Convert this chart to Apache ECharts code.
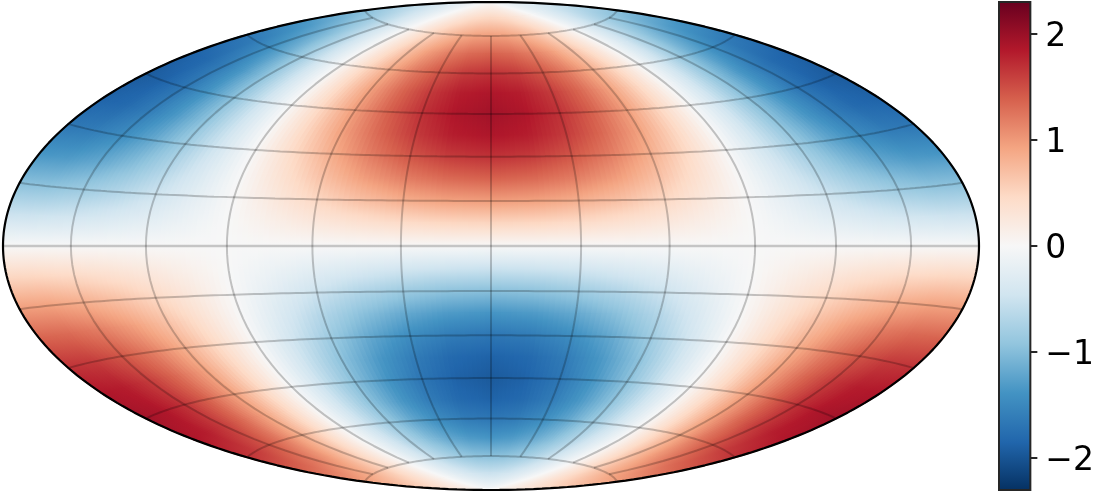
<!DOCTYPE html>
<html>
<head>
<meta charset="utf-8">
<title>Hammer map</title>
<script src="https://cdn.jsdelivr.net/npm/echarts@6/dist/echarts.min.js"></script>
<style>
  html, body { margin: 0; padding: 0; background: #fff; }
  #chart { width: 1097px; height: 493px; }
</style>
</head>
<body>
<div id="chart"></div>
<script>
var lonValues = [-180,-165,-150,-135,-120,-105,-90,-75,-60,-45,-30,-15,0,15,30,45,60,75,90,105,120,135,150,165,180];
var latValues = [90,82.5,75,67.5,60,52.5,45,37.5,30,22.5,15,7.5,0,-7.5,-15,-22.5,-30,-37.5,-45,-52.5,-60,-67.5,-75,-82.5,-90];

// values, one row per latitude, one column per longitude
var fieldRows = [
  [0,0,0,0,0,0,0,0,0,0,0,0,0,0,0,0,0,0,0,0,0,0,0,0,0],
  [-.50,-.48,-.43,-.35,-.25,-.13,0,.13,.25,.35,.43,.48,.50,.48,.43,.35,.25,.13,0,-.13,-.25,-.35,-.43,-.48,-.50],
  [-.97,-.94,-.84,-.69,-.49,-.25,0,.25,.49,.69,.84,.94,.97,.94,.84,.69,.49,.25,0,-.25,-.49,-.69,-.84,-.94,-.97],
  [-1.37,-1.32,-1.19,-.97,-.69,-.35,0,.35,.69,.97,1.19,1.32,1.37,1.32,1.19,.97,.69,.35,0,-.35,-.69,-.97,-1.19,-1.32,-1.37],
  [-1.68,-1.62,-1.45,-1.19,-.84,-.44,0,.44,.84,1.19,1.45,1.62,1.68,1.62,1.45,1.19,.84,.44,0,-.44,-.84,-1.19,-1.45,-1.62,-1.68],
  [-1.87,-1.81,-1.62,-1.32,-.94,-.48,0,.48,.94,1.32,1.62,1.81,1.87,1.81,1.62,1.32,.94,.48,0,-.48,-.94,-1.32,-1.62,-1.81,-1.87],
  [-1.94,-1.87,-1.68,-1.37,-.97,-.50,0,.50,.97,1.37,1.68,1.87,1.94,1.87,1.68,1.37,.97,.50,0,-.50,-.97,-1.37,-1.68,-1.87,-1.94],
  [-1.87,-1.81,-1.62,-1.32,-.94,-.48,0,.48,.94,1.32,1.62,1.81,1.87,1.81,1.62,1.32,.94,.48,0,-.48,-.94,-1.32,-1.62,-1.81,-1.87],
  [-1.68,-1.62,-1.45,-1.19,-.84,-.44,0,.44,.84,1.19,1.45,1.62,1.68,1.62,1.45,1.19,.84,.44,0,-.44,-.84,-1.19,-1.45,-1.62,-1.68],
  [-1.37,-1.32,-1.19,-.97,-.69,-.35,0,.35,.69,.97,1.19,1.32,1.37,1.32,1.19,.97,.69,.35,0,-.35,-.69,-.97,-1.19,-1.32,-1.37],
  [-.97,-.94,-.84,-.69,-.49,-.25,0,.25,.49,.69,.84,.94,.97,.94,.84,.69,.49,.25,0,-.25,-.49,-.69,-.84,-.94,-.97],
  [-.50,-.48,-.43,-.35,-.25,-.13,0,.13,.25,.35,.43,.48,.50,.48,.43,.35,.25,.13,0,-.13,-.25,-.35,-.43,-.48,-.50],
  [0,0,0,0,0,0,0,0,0,0,0,0,0,0,0,0,0,0,0,0,0,0,0,0,0],
  [.50,.48,.43,.35,.25,.13,0,-.13,-.25,-.35,-.43,-.48,-.50,-.48,-.43,-.35,-.25,-.13,0,.13,.25,.35,.43,.48,.50],
  [.97,.94,.84,.69,.49,.25,0,-.25,-.49,-.69,-.84,-.94,-.97,-.94,-.84,-.69,-.49,-.25,0,.25,.49,.69,.84,.94,.97],
  [1.37,1.32,1.19,.97,.69,.35,0,-.35,-.69,-.97,-1.19,-1.32,-1.37,-1.32,-1.19,-.97,-.69,-.35,0,.35,.69,.97,1.19,1.32,1.37],
  [1.68,1.62,1.45,1.19,.84,.44,0,-.44,-.84,-1.19,-1.45,-1.62,-1.68,-1.62,-1.45,-1.19,-.84,-.44,0,.44,.84,1.19,1.45,1.62,1.68],
  [1.87,1.81,1.62,1.32,.94,.48,0,-.48,-.94,-1.32,-1.62,-1.81,-1.87,-1.81,-1.62,-1.32,-.94,-.48,0,.48,.94,1.32,1.62,1.81,1.87],
  [1.94,1.87,1.68,1.37,.97,.50,0,-.50,-.97,-1.37,-1.68,-1.87,-1.94,-1.87,-1.68,-1.37,-.97,-.50,0,.50,.97,1.37,1.68,1.87,1.94],
  [1.87,1.81,1.62,1.32,.94,.48,0,-.48,-.94,-1.32,-1.62,-1.81,-1.87,-1.81,-1.62,-1.32,-.94,-.48,0,.48,.94,1.32,1.62,1.81,1.87],
  [1.68,1.62,1.45,1.19,.84,.44,0,-.44,-.84,-1.19,-1.45,-1.62,-1.68,-1.62,-1.45,-1.19,-.84,-.44,0,.44,.84,1.19,1.45,1.62,1.68],
  [1.37,1.32,1.19,.97,.69,.35,0,-.35,-.69,-.97,-1.19,-1.32,-1.37,-1.32,-1.19,-.97,-.69,-.35,0,.35,.69,.97,1.19,1.32,1.37],
  [.97,.94,.84,.69,.49,.25,0,-.25,-.49,-.69,-.84,-.94,-.97,-.94,-.84,-.69,-.49,-.25,0,.25,.49,.69,.84,.94,.97],
  [.50,.48,.43,.35,.25,.13,0,-.13,-.25,-.35,-.43,-.48,-.50,-.48,-.43,-.35,-.25,-.13,0,.13,.25,.35,.43,.48,.50],
  [0,0,0,0,0,0,0,0,0,0,0,0,0,0,0,0,0,0,0,0,0,0,0,0,0]
];

var gridLons = [-150,-120,-90,-60,-30,0,30,60,90,120,150];
var gridLats = [-75,-60,-45,-30,-15,0,15,30,45,60,75];
var colorbarTicks = [-2,-1,0,1,2];
var VMAX = 2.3;

// RdBu reversed
var COLORS = ['#053061','#2166ac','#4393c3','#92c5de','#d1e5f0','#f7f7f7','#fddbc7','#f4a582','#d6604d','#b2182b','#67001f'];

var SQRT2 = Math.SQRT2;
var DEG = Math.PI / 180;
var SUB = 8;   // shading strips per cell

// Hammer projection, lon/lat in degrees
function hammer(lon, lat) {
  var z = Math.sqrt(1 + Math.cos(lat * DEG) * Math.cos(lon * DEG / 2));
  return [
    2 * SQRT2 * Math.cos(lat * DEG) * Math.sin(lon * DEG / 2) / z,
    SQRT2 * Math.sin(lat * DEG) / z
  ];
}

function valueColor(v) {
  return echarts.color.lerp((v + VMAX) / (2 * VMAX), COLORS);
}

function mix(a, b, t) { return a + (b - a) * t; }

function renderCell(params, api) {
  var i = api.value(0), j = api.value(1);
  var lonA = lonValues[i], lonB = lonValues[i + 1];
  var latA = latValues[j], latB = latValues[j + 1];
  var children = [];
  function px(lon, lat) { return api.coord(hammer(lon, lat)); }

  for (var k = 0; k < SUB; k++) {
    var lon1 = mix(lonA, lonB, k / SUB), lon2 = mix(lonA, lonB, (k + 1) / SUB);
    var lonM = (lon1 + lon2) / 2, t = (k + 0.5) / SUB;
    var vTop = mix(fieldRows[j][i], fieldRows[j][i + 1], t);
    var vBot = mix(fieldRows[j + 1][i], fieldRows[j + 1][i + 1], t);

    var points = [], s;
    for (s = 0; s <= 4; s++) points.push(px(lon1, mix(latA, latB, s / 4)));
    for (s = 4; s >= 0; s--) points.push(px(lon2, mix(latA, latB, s / 4)));

    // gradient runs across the latitude lines, so strips line up with each other
    var p = px(lonM, latA), q = px(lonM, latB);
    var dx = points[9][0] - points[0][0] + points[5][0] - points[4][0];
    var dy = points[9][1] - points[0][1] + points[5][1] - points[4][1];
    var len = Math.sqrt(dx * dx + dy * dy) || 1;
    var nx = -dy / len, ny = dx / len;
    var d = (q[0] - p[0]) * nx + (q[1] - p[1]) * ny;

    var stops = [0, 1 / 3, 2 / 3, 1].map(function (o) {
      return { offset: o, color: valueColor(mix(vTop, vBot, o)) };
    });
    var grad = {
      type: 'linear', global: true,
      x: p[0], y: p[1], x2: p[0] + nx * d, y2: p[1] + ny * d,
      colorStops: stops
    };
    children.push({
      type: 'polygon',
      shape: { points: points },
      style: { fill: grad, stroke: grad, lineWidth: 1.5 }
    });
  }
  return { type: 'group', children: children };
}

function renderColorbar(params, api) {
  var top = api.coord([0, VMAX]), bot = api.coord([1, -VMAX]);
  return {
    type: 'rect',
    shape: { x: top[0], y: top[1], width: bot[0] - top[0], height: bot[1] - top[1] },
    style: {
      fill: {
        type: 'linear', x: 0, y: 1, x2: 0, y2: 0,
        colorStops: COLORS.map(function (c, n) { return { offset: n / (COLORS.length - 1), color: c }; })
      },
      stroke: '#262626',
      lineWidth: 2
    }
  };
}

function gridLine(points, width, alpha) {
  return {
    type: 'line',
    xAxisIndex: 0, yAxisIndex: 0,
    data: points,
    showSymbol: false,
    silent: true,
    clip: false,
    z: 3,
    lineStyle: { color: 'rgba(0,0,0,' + alpha + ')', width: width }
  };
}

var cells = [];
for (var j = 0; j < latValues.length - 1; j++) {
  for (var i = 0; i < lonValues.length - 1; i++) {
    cells.push([i, j]);
  }
}

var series = [{
  type: 'custom',
  xAxisIndex: 0, yAxisIndex: 0,
  data: cells,
  renderItem: renderCell,
  silent: true,
  progressive: 0,
  z: 1
}];

gridLats.forEach(function (lat) {
  var pts = [];
  for (var lon = -180; lon <= 180; lon += 2.5) pts.push(hammer(lon, lat));
  // the equator sits thicker and paler in the original
  series.push(lat === 0 ? gridLine(pts, 2.6, 0.2) : gridLine(pts, 2, 0.22));
});
gridLons.forEach(function (lon) {
  var pts = [];
  for (var lat = -75; lat <= 75; lat += 2.5) pts.push(hammer(lon, lat));
  series.push(gridLine(pts, 2, 0.22));
});

// map outline
var outline = [];
for (var a = -90; a <= 90; a += 1) outline.push(hammer(180, a));
for (a = 90; a >= -90; a -= 1) outline.push(hammer(-180, a));
series.push({
  type: 'line',
  xAxisIndex: 0, yAxisIndex: 0,
  data: outline,
  showSymbol: false,
  silent: true,
  clip: false,
  z: 4,
  lineStyle: { color: '#000', width: 2.2 }
});

series.push({
  type: 'custom',
  xAxisIndex: 1, yAxisIndex: 1,
  data: [[0, 0]],
  renderItem: renderColorbar,
  silent: true,
  z: 1
});

var chart = echarts.init(document.getElementById('chart'), null, { renderer: 'canvas' });
chart.setOption({
  animation: false,
  backgroundColor: '#fff',
  grid: [
    { left: 3, top: 2, width: 976, height: 488 },
    { left: 999, top: 2, width: 32, height: 488 }
  ],
  xAxis: [
    { type: 'value', gridIndex: 0, min: -2 * SQRT2, max: 2 * SQRT2, show: false },
    { type: 'value', gridIndex: 1, min: 0, max: 1, show: false }
  ],
  yAxis: [
    { type: 'value', gridIndex: 0, min: -SQRT2, max: SQRT2, show: false },
    {
      type: 'value', gridIndex: 1, position: 'right',
      min: -VMAX, max: VMAX,
      axisLine: { show: true, onZero: false, lineStyle: { color: 'rgba(0,0,0,0)' } },
      splitLine: { show: false },
      axisTick: { show: true, length: 7, customValues: colorbarTicks, lineStyle: { color: '#262626', width: 2 } },
      axisLabel: {
        show: true, margin: 15, customValues: colorbarTicks,
        fontFamily: 'DejaVu Sans', fontSize: 33, color: '#000',
        verticalAlign: 'top', lineHeight: 7,
        formatter: function (v) { return String(v).replace('-', '\u2212'); }
      }
    }
  ],
  series: series
});
</script>
</body>
</html>
